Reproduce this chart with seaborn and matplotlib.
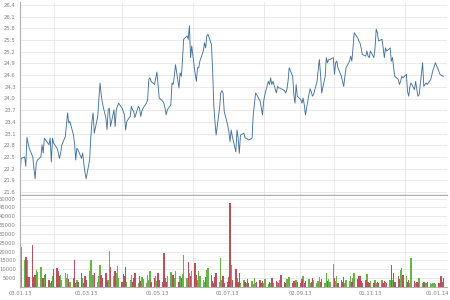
import numpy as np
import pandas as pd
import matplotlib
matplotlib.use("Agg")
import matplotlib.pyplot as plt
import matplotlib.dates as mdates
import matplotlib.transforms as mtransforms
import seaborn as sns

price_a = [22.07, 22.46, 22.50, 22.26, 23.00, 22.85, 22.72, 22.50, 22.20, 21.94,
           22.33, 22.42, 22.50, 22.81, 22.60, 22.98, 22.94, 22.81, 22.98, 22.37,
           22.98, 22.85, 22.72, 22.60, 22.46, 22.60, 22.80, 23.02, 23.30, 23.63,
           23.37, 23.41, 23.07, 22.85, 22.42, 22.72, 22.68, 22.46, 22.60, 22.33,
           22.10, 21.94, 22.42, 22.98, 23.41, 23.63, 23.11, 23.54, 24.00, 24.40,
           24.10, 23.88, 23.50, 23.20, 23.71, 23.75, 23.28, 23.71, 23.28, 23.71,
           23.80, 23.88, 23.75]
price_b = [23.67, 23.58, 23.19, 23.41, 23.54, 23.80, 23.71, 23.67, 23.51, 23.80,
           23.75, 23.54, 23.67, 23.75, 23.88, 23.97, 24.49, 24.53, 24.44, 24.36,
           24.53, 24.68, 24.36, 24.01, 23.93, 23.88, 23.75, 23.58, 23.71, 23.84,
           24.40, 24.36, 24.57, 24.87, 24.27, 24.66, 24.57, 24.96, 25.52, 25.61,
           25.52, 25.87, 25.05, 25.35, 24.62, 24.44, 24.79, 24.79, 24.96, 25.22,
           25.43, 25.30, 25.61, 25.65, 25.39, 24.74, 23.84, 23.41, 23.06, 23.75,
           24.14, 24.20, 24.14, 23.67, 23.32, 23.15, 22.89]
price_c = [23.19, 23.02, 22.63, 23.19, 22.98, 22.59, 23.06, 23.11, 22.98, 22.98,
           22.96, 22.93, 22.98, 23.58, 23.84, 24.14, 24.10, 23.93, 23.75, 23.58,
           23.93, 24.10, 24.44, 24.36, 24.53, 24.36, 24.44, 24.14, 24.31, 24.27,
           24.27, 24.25, 24.20, 24.14, 24.23, 24.44, 24.79, 24.57, 24.10, 23.88,
           24.36, 24.06, 23.97, 23.88, 24.01, 23.84, 23.58, 24.10, 24.25, 24.18,
           24.06, 24.10, 24.44, 24.74, 25.00, 24.62, 24.14, 24.57, 25.05, 24.92,
           25.00, 25.00, 25.05, 24.62]
price_d = [24.92, 24.96, 24.79, 24.57, 24.44, 24.31, 24.57, 24.79, 24.96, 25.09,
           24.96, 25.30, 25.69, 25.56, 25.48, 25.43, 25.30, 25.13, 25.09, 25.22,
           25.09, 25.05, 25.22, 25.05, 25.30, 25.78, 25.69, 25.48, 25.52, 25.30,
           25.05, 25.30, 25.22, 25.30, 24.96, 25.05, 24.79, 24.57, 24.49, 24.36,
           24.44, 24.57, 24.53, 24.62, 24.18, 24.06, 24.31, 24.40, 24.23, 24.44,
           24.23, 24.06, 24.10, 24.92, 24.31, 24.36, 24.40, 24.36, 24.49, 24.62,
           24.74, 24.83, 24.92, 24.70, 24.62, 24.60, 24.58, 24.57]

volume = [13500, 22900, 15400, 17250, 15400, 5900, 5900, 23900, 5900, 6850,
          9700, 8750, 11600, 3100, 5000, 6850, 7200, 4000, 2500, 3500,
          6000, 10000, 11000, 9000, 6000, 7000, 4000, 8000, 5000, 7500,
          4500, 3000, 5000, 15300, 2500, 4000, 3000, 8000, 5000, 2500,
          6000, 4000, 9000, 15400, 5000, 7000, 8000, 3000, 6000, 12500,
          7000, 5000, 8000, 3000, 4000, 20650, 11600, 6500, 9000, 8000,
          12000, 5000, 3000, 7500, 6000, 11600, 3000, 4000, 7000, 3000,
          5000, 8000, 2500, 6000, 3500, 5500, 4500, 2000, 7000, 4000,
          9000, 3000, 5000, 6500, 3500, 8000, 4000, 3000, 19100, 5000,
          3000, 6500, 8500, 4000, 7000, 5000, 9000, 3000, 6500, 5000,
          7500, 18200, 5000, 14400, 8000, 6000, 9000, 13800, 7000, 4000,
          9000, 6500, 4000, 3000, 5500, 9500, 11000, 7000, 3500, 2500,
          5500, 8000, 3000, 16300, 4000, 6000, 2500, 3000, 5500, 47700,
          12500, 4000, 10200, 5000, 3000, 8000, 2500, 4000, 3000, 2000,
          4500, 2500, 3500, 1500, 5000, 2500, 3000, 4000, 2000, 3500,
          2500, 4500, 1800, 3000, 2500, 5000, 2000, 3500, 3000, 2500,
          4000, 6800, 3000, 2000, 4500, 3000, 5800, 2500, 3500, 2000,
          4000, 3000, 2500, 4500, 6500, 2500, 3500, 4500, 2000, 3000,
          5000, 4000, 2500, 3500, 5500, 3000, 4500, 2500, 7800, 3500,
          4500, 3000, 12900, 5000, 3500, 6000, 2500, 4000, 3000, 5500,
          2500, 4000, 3500, 6400, 3000, 5000, 8000, 4500, 6500, 6000,
          3500, 2500, 4000, 7400, 3000, 2000, 3500, 2500, 4000, 2000,
          3000, 2500, 4000, 2000, 3500, 3000, 2500, 4000, 12500, 4000,
          8000, 3000, 6000, 4500, 9600, 10800, 7000, 6000, 3000, 4000,
          2500, 16500, 3500, 2000, 3000, 2500, 5100, 2000, 3000, 1500,
          2500, 3000, 2000, 1500, 2500, 2000, 1800, 2500, 2000, 6250,
          3000, 5100]

tick_dates = ["2013-01-03", "2013-03-01", "2013-05-01", "2013-07-01",
              "2013-09-02", "2013-11-01", "2014-01-01"]
tick_labels = ["03.01.13", "01.03.13", "01.05.13", "01.07.13",
               "02.09.13", "01.11.13", "01.01.14"]
price_ticks = [21.6, 21.9, 22.2, 22.5, 22.8, 23.1, 23.4, 23.7, 24.0, 24.3,
               24.6, 24.9, 25.2, 25.5, 25.8, 26.1, 26.4]
volume_ticks = [5000, 10000, 15000, 20000, 25000, 30000, 35000, 40000, 45000, 50000]

price = price_a + price_b + price_c + price_d
n = min(len(price), len(volume))
price = price[:n]
volume = volume[:n]
dates = pd.bdate_range("2013-01-03", periods=n)
xnum = mdates.date2num(dates.to_pydatetime())
direction = ["up"] + ["up" if price[i] >= price[i - 1] else "down" for i in range(1, n)]

df = pd.DataFrame({"x": xnum, "price": price, "volume": volume, "dir": direction})

sns.set_style("white")
plt.rcParams["font.family"] = ["DejaVu Sans"]

fig = plt.figure(figsize=(4.5, 3.0), dpi=100)
W, H = 450.0, 300.0
left, right = 20 / W, 447 / W
ax1 = fig.add_axes([left, 1 - 195 / H, right - left, (195 - 2) / H])
ax2 = fig.add_axes([left, 1 - 287 / H, right - left, (287 - 196) / H])

grid_c = "#e6e6e6"
text_c = "#808080"
spine_c = "#b0b0b0"

sns.lineplot(data=df, x="x", y="price", ax=ax1, color="#44729f",
             linewidth=0.65, estimator=None)
sns.barplot(data=df, x="x", y="volume", hue="dir", native_scale=True,
            palette={"up": "#66b544", "down": "#b8505e"}, dodge=False,
            errorbar=None, legend=False, saturation=1, linewidth=0,
            width=1.25, ax=ax2)

x0 = mdates.date2num(pd.Timestamp("2013-01-03"))
x1 = mdates.date2num(pd.Timestamp("2014-01-06"))
month_starts = mdates.date2num(pd.date_range("2013-02-01", "2014-01-01", freq="MS").to_pydatetime())
major = mdates.date2num(pd.to_datetime(tick_dates).to_pydatetime())

for ax in (ax1, ax2):
    ax.set_xlim(x0, x1)
    ax.set_xticks(month_starts, minor=True)
    ax.grid(True, which="minor", axis="x", color=grid_c, linewidth=0.6)
    ax.grid(False, which="major", axis="x")
    ax.grid(True, which="major", axis="y", color=grid_c, linewidth=0.6)
    ax.set_axisbelow(True)
    ax.set_xlabel("")
    ax.set_ylabel("")
    for s in ("top", "right"):
        ax.spines[s].set_visible(False)
    for s in ("left", "bottom"):
        ax.spines[s].set_color(spine_c)
        ax.spines[s].set_linewidth(0.8)
    ax.tick_params(axis="both", which="both", colors=spine_c, labelcolor=text_c,
                   labelsize=3.8, length=2, width=0.5, pad=1)
    ax.tick_params(axis="x", which="minor", length=0)

ax1.set_ylim(21.52, 26.48)
ax1.set_yticks(price_ticks)
ax1.set_yticklabels([f"{v:.1f}" for v in price_ticks])
ax1.set_xticks(major)
ax1.set_xticklabels([])
ax1.tick_params(axis="x", length=0)
ax1.spines["bottom"].set_linewidth(1.0)
ax1.grid(False, which="major", axis="x")

ax2.set_ylim(0, 51500)
ax2.set_yticks(volume_ticks)
ax2.set_yticklabels([str(v) for v in volume_ticks])
ax2.set_xticks(major)
ax2.set_xticklabels(tick_labels)
ax2.grid(False, which="major", axis="x")

last = ax2.get_xticklabels()[-1]
last.set_transform(last.get_transform() +
                   mtransforms.ScaledTranslation(-4 / 100, 0, fig.dpi_scale_trans))

fig.savefig("out.png", dpi=100)
